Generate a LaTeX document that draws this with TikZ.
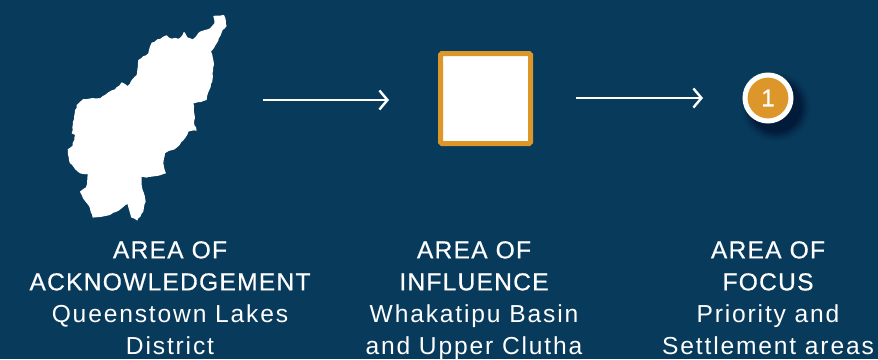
\documentclass[tikz,border=0pt]{standalone}
\usepackage{fontspec}
\setmainfont{Liberation Sans}
\newfontfamily\headfont[LetterSpace=5,FakeBold=0.5]{Liberation Sans}
\newfontfamily\bodyfont[LetterSpace=7.5]{Liberation Sans}
\newfontfamily\numfont[FakeBold=1]{Liberation Sans}
\usetikzlibrary{arrows.meta,decorations.pathmorphing}
\definecolor{navy}{HTML}{083A5C}
\definecolor{amber}{HTML}{DD962A}
\definecolor{shade}{HTML}{021A3A}
\tikzset{
  flow/.style={draw=white,line width=2.6pt,-{Straight Barb[length=8pt,width=19pt,line width=2.4pt]}},
  caption/.style={text=white,align=center,font=\fontsize{24.6}{32}\selectfont,inner sep=0pt,anchor=north},
}
\newcommand{\hd}[1]{{\headfont #1}}
\newcommand{\bd}[1]{{\bodyfont #1}}
\begin{document}
\begin{tikzpicture}[x=1pt,y=-1pt]
\useasboundingbox (0,0) rectangle (878,359);
\fill[navy] (0,0) rectangle (878,359);
% map
\pgfmathsetseed{7}
\begin{scope}[shift={(50,0)},x=0.3333pt,y=-0.3333pt]
\fill[white,decorate,decoration={random steps,segment length=3pt,amplitude=0.6pt}] (490,48) -- (522,45) -- (530,78) -- (518,90) -- (505,122) -- (483,155) -- (491,185) -- (488,235) -- (478,270) -- (470,300) -- (430,310) -- (434,345) -- (432,365) -- (440,392) -- (415,395) -- (405,415) -- (380,443) -- (345,460) -- (340,490) -- (348,520) -- (330,526) -- (290,533) -- (275,530) -- (278,570) -- (287,605) -- (280,635) -- (262,662) -- (243,652) -- (233,612) -- (215,625) -- (180,645) -- (128,653) -- (118,620) -- (105,603) -- (90,575) -- (108,562) -- (113,522) -- (90,520) -- (60,490) -- (53,448) -- (68,437) -- (75,405) -- (65,400) -- (72,350) -- (80,315) -- (100,297) -- (150,295) -- (175,277) -- (195,268) -- (215,247) -- (233,258) -- (260,225) -- (265,180) -- (295,160) -- (305,128) -- (350,106) -- (365,116) -- (390,114) -- (402,95) -- (412,112) -- (428,118) -- (450,95) -- (480,85) -- (493,70) -- cycle;
\end{scope}
% square
\node[draw=amber,fill=white,line width=5pt,rounded corners=1.5pt,minimum size=90pt,inner sep=0pt] (square) at (485.5,98.5) {};
% circle with soft shadow, built from opaque rings
\foreach \r/\m in {35/5,34/10,33/17,32/25,31/34,30/44,29/55,28/66,27/77,26/88,25/96}
  \fill[shade!\m!navy] (776,107) circle[radius=\r pt];
\node[circle,draw=white,fill=amber,line width=5pt,minimum size=46pt,inner sep=0pt,text=white,font=\numfont\fontsize{24}{24}\selectfont] (focus) at (768,98) {1};
% arrows
\coordinate (a1) at (263,100);
\coordinate (a2) at (389,100);
\coordinate (b1) at (576,98);
\coordinate (b2) at (703,98);
\draw[flow] (a1) -- (a2);
\draw[flow] (b1) -- (b2);
% captions
\node[caption] (c1) at (170,241) {\hd{AREA OF}\\\hd{ACKNOWLEDGEMENT}\\\bd{Queenstown Lakes}\\\bd{District}};
\node[caption] (c2) at (474,241) {\hd{AREA OF}\\\hd{INFLUENCE}\\\bd{Whakatipu Basin}\\\bd{and Upper Clutha}};
\node[caption] (c3) at (768,241) {\hd{AREA OF}\\\hd{FOCUS}\\\bd{Priority and}\\\bd{Settlement areas}};
\end{tikzpicture}
\end{document}
